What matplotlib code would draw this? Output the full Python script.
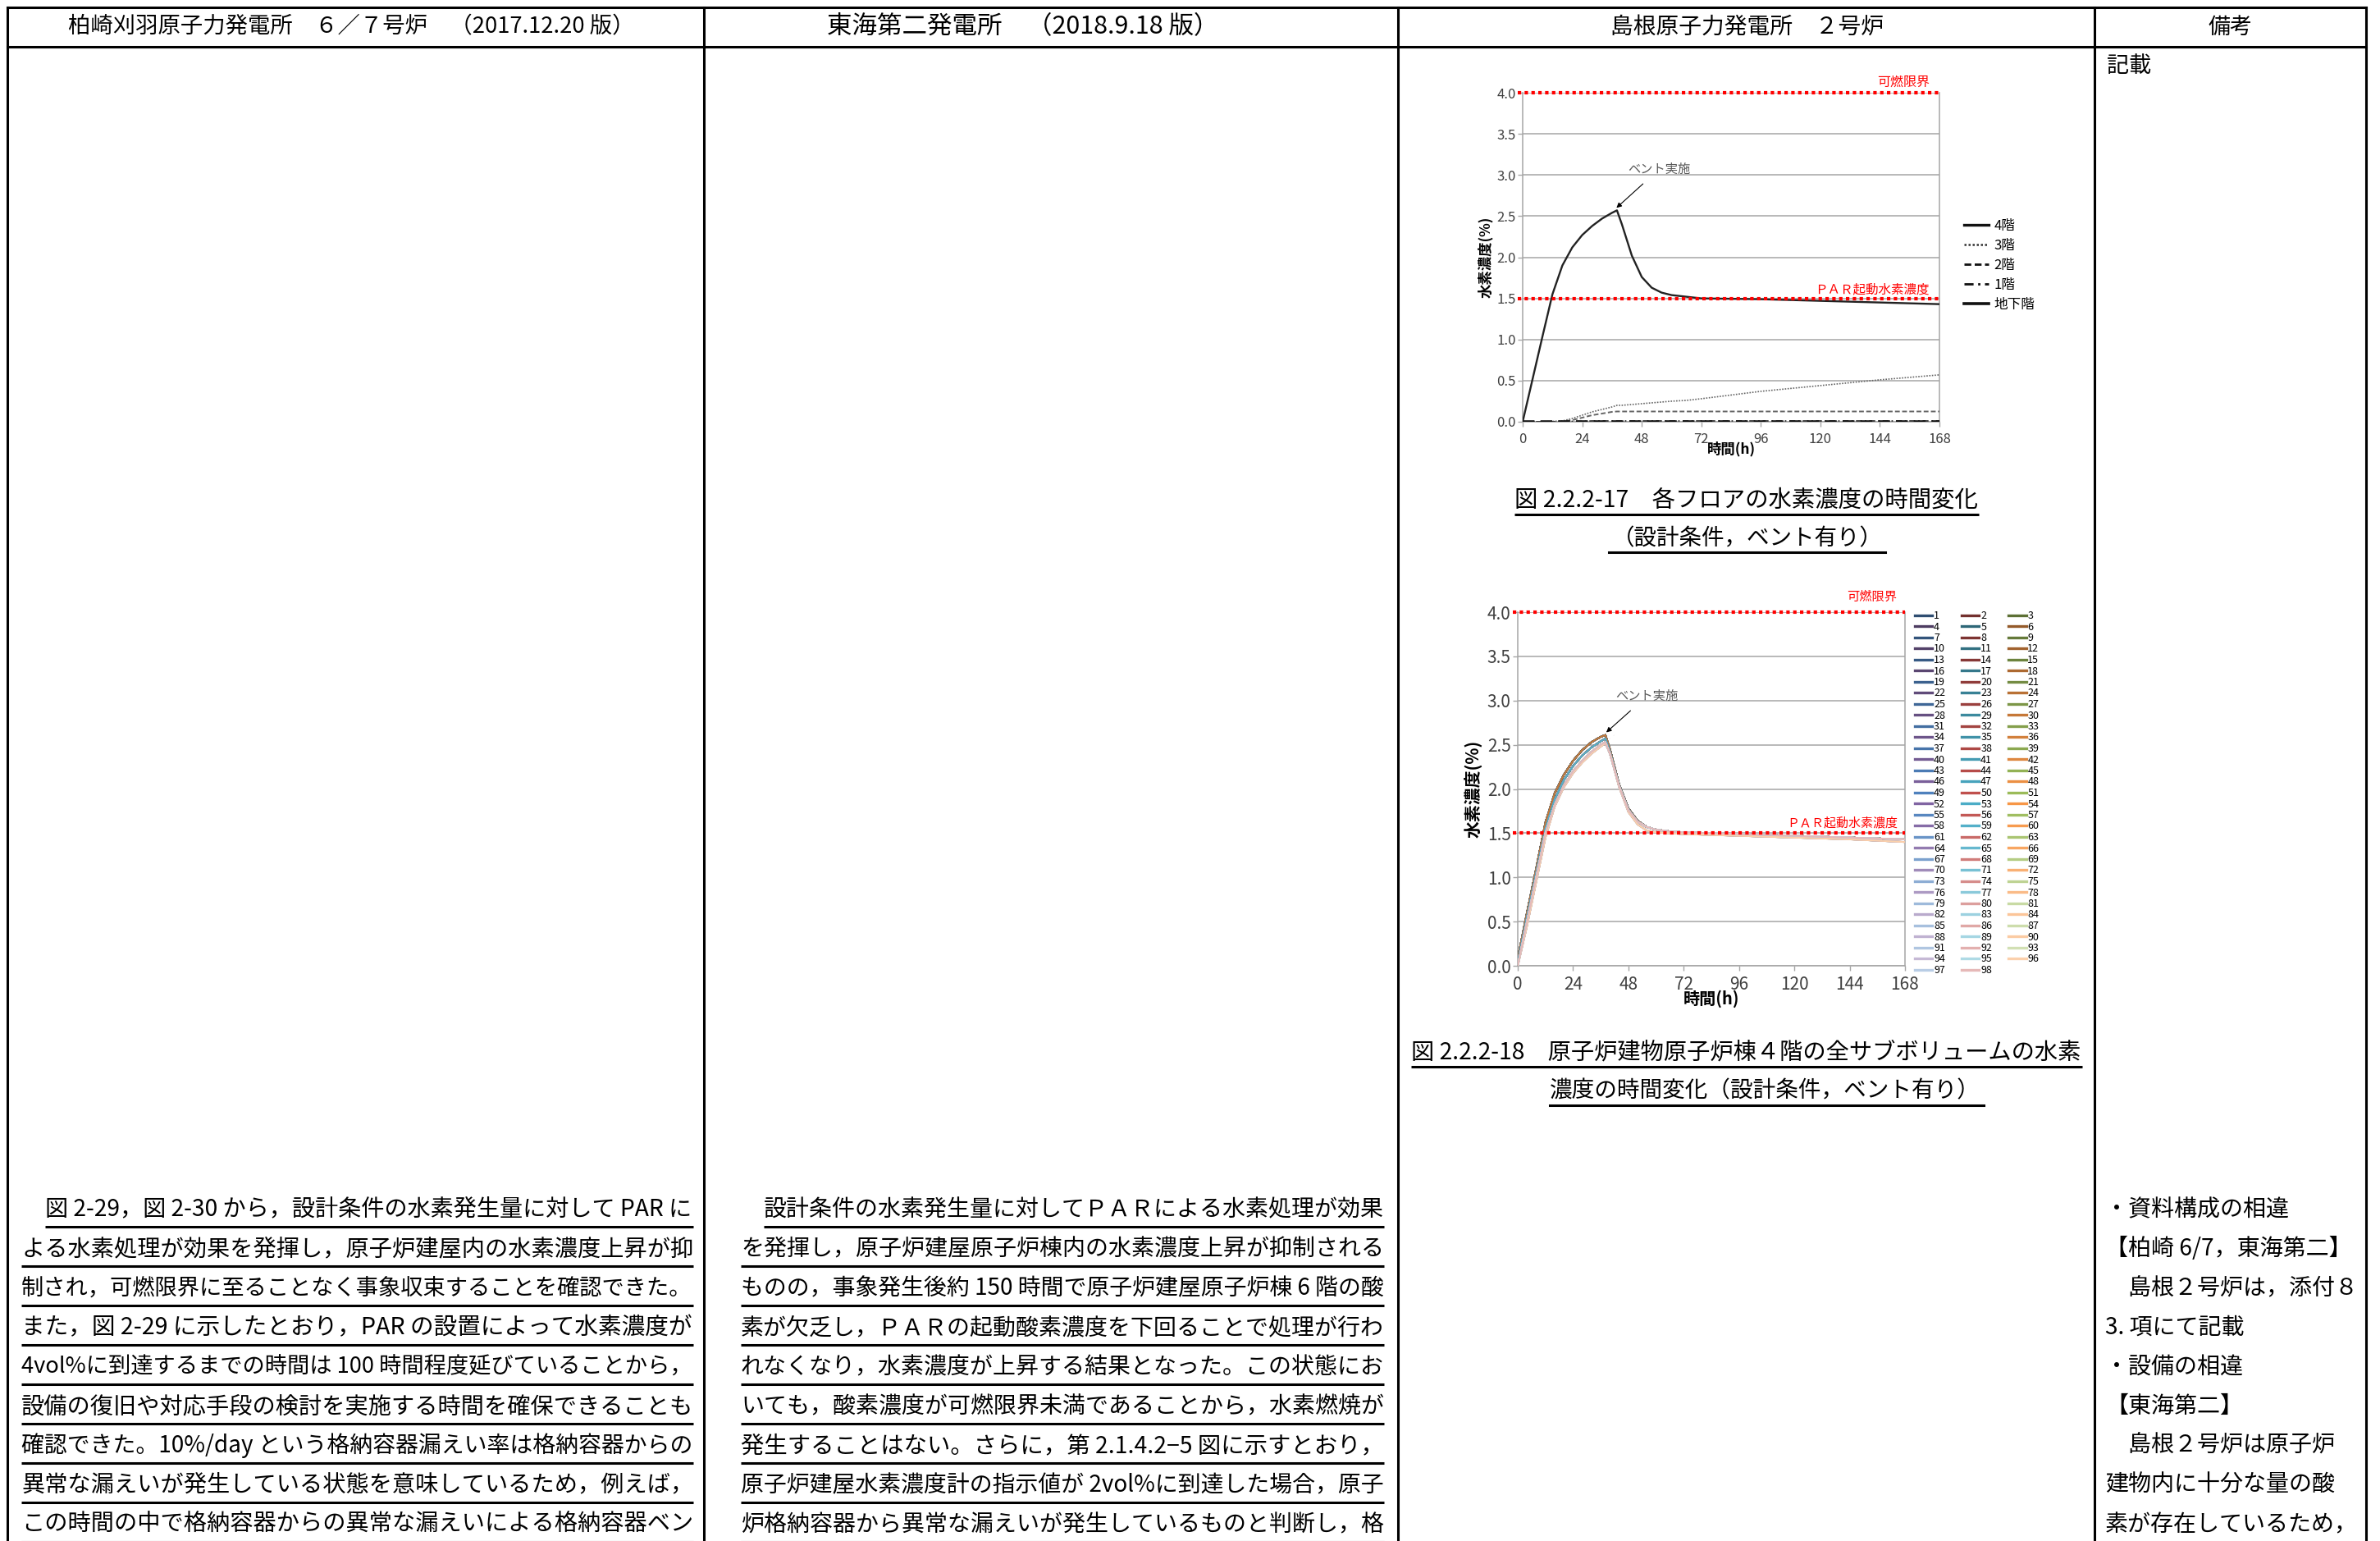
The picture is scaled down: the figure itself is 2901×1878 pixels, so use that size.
import numpy as np
import matplotlib
matplotlib.use('Agg')
import matplotlib.pyplot as plt
from matplotlib.lines import Line2D
from matplotlib.colors import to_rgb

plt.rcParams['font.family'] = ['Noto Sans CJK JP', 'DejaVu Sans']

W, H = 2901, 1878

# ---- table header ----
headers = ['柏崎刈羽原子力発電所　６／７号炉　（2017.12.20 版）',
           '東海第二発電所　（2018.9.18 版）',
           '島根原子力発電所　２号炉',
           '備考']
header_span = [(83, 773), (1008, 1486), (1963, 2297), (2691, 2745)]
col_lines = [9, 858, 1704, 2553, 2884]

# ---- chart 1 : hydrogen concentration per floor ----
hours1 = [0, 4, 8, 12, 16, 20, 24, 28, 32, 36, 38, 40, 44, 48, 52, 56, 60, 66, 72, 96, 120, 144, 168]
floor4 = [0, 0.52, 1.04, 1.55, 1.90, 2.12, 2.27, 2.38, 2.47, 2.54, 2.57, 2.40, 2.02, 1.76, 1.63, 1.57, 1.54, 1.52, 1.50, 1.49, 1.47, 1.45, 1.43]
floor3 = [0, 0, 0, 0.005, 0.01, 0.04, 0.08, 0.12, 0.15, 0.18, 0.20, 0.20, 0.21, 0.22, 0.23, 0.24, 0.25, 0.26, 0.28, 0.37, 0.44, 0.51, 0.57]
floor2 = [0, 0, 0, 0, 0.005, 0.02, 0.05, 0.08, 0.10, 0.12, 0.125, 0.125, 0.125, 0.125, 0.125, 0.125, 0.125, 0.125, 0.125, 0.125, 0.125, 0.125, 0.125]
floor1 = [0, 0, 0, 0, 0, 0.005, 0.005, 0.01, 0.01, 0.01, 0.01, 0.01, 0.01, 0.01, 0.01, 0.01, 0.01, 0.01, 0.01, 0.01, 0.01, 0.01, 0.01]
basement = [0, 0, 0, 0, 0, 0, 0, 0, 0, 0, 0, 0, 0, 0, 0, 0, 0, 0, 0, 0, 0, 0, 0]
floor_labels = ['4階', '3階', '2階', '1階', '地下階']

# ---- chart 2 : all sub-volumes of 4th floor ----
hours2 = [0, 4, 8, 12, 16, 20, 24, 28, 32, 36, 38, 40, 44, 48, 52, 56, 60, 66, 72, 96, 120, 144, 168]
sub_upper = [0.08, 0.60, 1.10, 1.62, 1.95, 2.16, 2.32, 2.44, 2.53, 2.59, 2.61, 2.45, 2.05, 1.78, 1.64, 1.57, 1.54, 1.52, 1.51, 1.49, 1.47, 1.45, 1.43]
sub_middle = [0.04, 0.55, 1.05, 1.55, 1.88, 2.10, 2.26, 2.38, 2.47, 2.54, 2.57, 2.42, 2.04, 1.77, 1.63, 1.57, 1.54, 1.52, 1.51, 1.49, 1.47, 1.45, 1.43]
sub_lower = [0.0, 0.50, 1.00, 1.50, 1.82, 2.04, 2.20, 2.32, 2.42, 2.50, 2.53, 2.40, 2.03, 1.76, 1.63, 1.57, 1.54, 1.52, 1.51, 1.49, 1.47, 1.45, 1.43]
sub_orange = [0.0, 0.45, 0.95, 1.45, 1.80, 2.02, 2.18, 2.30, 2.40, 2.48, 2.52, 2.40, 2.02, 1.74, 1.60, 1.53, 1.51, 1.50, 1.49, 1.47, 1.45, 1.43, 1.40]
n_sub = 98
upper_ids = list(range(1, 31))
middle_ids = list(range(31, 61))
orange_ids = [60, 66, 72, 73, 79, 85, 92, 96]

xticks = [0, 24, 48, 72, 96, 120, 144, 168]
yticks = [0.0, 0.5, 1.0, 1.5, 2.0, 2.5, 3.0, 3.5, 4.0]
ylim_flammable = 4.0
par_start = 1.5

# ---- body text ----
kk_lines = ['図 2-29，図 2-30 から，設計条件の水素発生量に対して PAR に',
            'よる水素処理が効果を発揮し，原子炉建屋内の水素濃度上昇が抑',
            '制され，可燃限界に至ることなく事象収束することを確認できた。',
            'また，図 2-29 に示したとおり，PAR の設置によって水素濃度が',
            '4vol%に到達するまでの時間は 100 時間程度延びていることから，',
            '設備の復旧や対応手段の検討を実施する時間を確保できることも',
            '確認できた。10%/day という格納容器漏えい率は格納容器からの',
            '異常な漏えいが発生している状態を意味しているため，例えば，',
            'この時間の中で格納容器からの異常な漏えいによる格納容器ベン']
tk_lines = ['設計条件の水素発生量に対してＰＡＲによる水素処理が効果',
            'を発揮し，原子炉建屋原子炉棟内の水素濃度上昇が抑制される',
            'ものの，事象発生後約 150 時間で原子炉建屋原子炉棟 6 階の酸',
            '素が欠乏し，ＰＡＲの起動酸素濃度を下回ることで処理が行わ',
            'れなくなり，水素濃度が上昇する結果となった。この状態にお',
            'いても，酸素濃度が可燃限界未満であることから，水素燃焼が',
            '発生することはない。さらに，第 2.1.4.2−5 図に示すとおり，',
            '原子炉建屋水素濃度計の指示値が 2vol%に到達した場合，原子',
            '炉格納容器から異常な漏えいが発生しているものと判断し，格']
biko_lines = ['・資料構成の相違',
              '【柏崎 6/7，東海第二】',
              '　島根２号炉は，添付８',
              '3. 項にて記載',
              '・設備の相違',
              '【東海第二】',
              '　島根２号炉は原子炉',
              '建物内に十分な量の酸',
              '素が存在しているため，']
cap1 = ['図 2.2.2-17　各フロアの水素濃度の時間変化', '（設計条件，ベント有り）']
cap2 = ['図 2.2.2-18　原子炉建物原子炉棟４階の全サブボリュームの水素', '濃度の時間変化（設計条件，ベント有り）']

fig = plt.figure(figsize=(W / 100, H / 100), dpi=100)
ov = fig.add_axes([0, 0, 1, 1])
ov.set_xlim(0, W)
ov.set_ylim(H, 0)
ov.axis('off')
rend = fig.canvas.get_renderer()


def fit_text(x0, x1, y, s, size=20.4, under=None, color='black'):
    t = ov.text(x0, y, s, fontsize=size, va='center', ha='left', color=color)
    w = t.get_window_extent(rend).width
    t.set_fontsize(size * (x1 - x0) / w)
    if under is not None:
        ov.plot([x0, x1], [under, under], color='black', lw=2.2, solid_capstyle='butt')
    return t


# table frame
ov.plot([col_lines[0], col_lines[-1]], [9, 9], color='black', lw=2.2)
ov.plot([col_lines[0], col_lines[-1]], [57, 57], color='black', lw=2.2)
for x in col_lines:
    ov.plot([x, x], [9, H], color='black', lw=2.2)

for s, (a, b) in zip(headers, header_span):
    fit_text(a, b, 33, s)

ov.text(2568, 81, '記載', fontsize=19.5, va='center', ha='left')

# body text blocks
for k, s in enumerate(kk_lines):
    y = 1474 + 48 * k
    x0 = 55 if k == 0 else 26
    fit_text(x0, 845, y, s, under=y + 21)
for k, s in enumerate(tk_lines):
    y = 1474 + 48 * k
    x0 = 931 if k == 0 else 903
    fit_text(x0, 1687, y, s, under=y + 21)
for k, s in enumerate(biko_lines):
    ov.text(2566, 1474 + 48 * k, s, fontsize=20.2, va='center', ha='left')

# captions
fit_text(1846, 2412, 610, cap1[0], under=627)
fit_text(1965, 2296, 657, cap1[1])
ov.plot([1961, 2298], [673, 673], color='black', lw=2.2)
fit_text(1720, 2538, 1282, cap2[0], under=1300)
fit_text(1889, 2414, 1330, cap2[1])
ov.plot([1889, 2418], [1347, 1347], color='black', lw=2.2)


def px_axes(l, t, r, b):
    return fig.add_axes([l / W, 1 - b / H, (r - l) / W, (b - t) / H])


def style(ax, tsize):
    ax.set_xlim(0, 168)
    ax.set_ylim(0, 4.0)
    ax.set_xticks(xticks)
    ax.set_yticks(yticks)
    ax.set_yticklabels(['%.1f' % v for v in yticks])
    ax.grid(axis='y', color='#a6a6a6', lw=1.1)
    ax.set_axisbelow(True)
    ax.spines['top'].set_visible(False)
    for sp in ['left', 'right', 'bottom']:
        ax.spines[sp].set_color('#a6a6a6')
        ax.spines[sp].set_linewidth(1.1)
    ax.tick_params(color='#a6a6a6', length=4, width=1, labelcolor='#404040', labelsize=tsize, pad=2)
    ax.tick_params(axis='x', pad=5)
    ax.axhline(ylim_flammable, xmin=-0.012, color='red', lw=3, ls=(0, (1, 1)), clip_on=False, zorder=6)
    ax.axhline(par_start, xmin=-0.012, color='red', lw=3, ls=(0, (1, 1)), clip_on=False, zorder=6)


# chart 1
ax1 = px_axes(1856, 113, 2364, 514)
style(ax1, 12)
ax1.plot(hours1, floor4, color='#222222', lw=1.7, zorder=4)
ax1.plot(hours1, floor3, color='#666666', lw=1.2, ls=(0, (1, 1)), zorder=4)
ax1.plot(hours1, floor2, color='#666666', lw=1.4, ls=(0, (3, 1.5)), zorder=4)
ax1.plot(hours1, floor1, color='#333333', lw=1.3, ls=(0, (4, 2, 1, 2)), zorder=4)
ax1.plot(hours1, basement, color='#111111', lw=2.6, ls=(0, (4, 2)), zorder=5)
ax1.set_ylabel('水素濃度(%)', fontsize=12.5, fontweight='bold', labelpad=3)
ax1.set_xlabel('時間(h)', fontsize=12.5, fontweight='bold', labelpad=-4)
ax1.text(164, 4.13, '可燃限界', color='red', fontsize=11.5, ha='right', va='center')
ax1.text(164, 1.61, 'ＰＡＲ起動水素濃度', color='red', fontsize=11.2, ha='right', va='center')
ax1.annotate('ベント実施', xy=(37.8, 2.6), xytext=(55, 3.07), fontsize=11, color='#595959',
             ha='center', va='center',
             arrowprops=dict(arrowstyle='-|>', color='black', lw=0.8, shrinkA=7, shrinkB=0, mutation_scale=9))
h1 = [Line2D([0], [0], color='#111111', lw=2.4),
      Line2D([0], [0], color='#333333', lw=1.8, ls=(0, (1, 1))),
      Line2D([0], [0], color='#111111', lw=2.0, ls=(0, (3, 1.5))),
      Line2D([0], [0], color='#111111', lw=2.0, ls=(0, (4, 2, 1, 2))),
      Line2D([0], [0], color='#111111', lw=2.6)]
fig.legend(h1, floor_labels, loc='upper left', bbox_to_anchor=(2394 / W, 1 - 267 / H),
           frameon=False, fontsize=12, handlelength=1.8, handletextpad=0.4, labelspacing=0.42,
           borderpad=0, borderaxespad=0)

# chart 2
base_cols = ['#4F81BD', '#C0504D', '#9BBB59', '#8064A2', '#4BACC6', '#F79646']
shade = [-0.4, -0.35, -0.3, -0.25, -0.2, -0.15, -0.1, -0.05, 0.0, 0.05, 0.15, 0.25, 0.35, 0.45, 0.5, 0.55, 0.6]


def sub_color(i):
    c = np.array(to_rgb(base_cols[i % 6]))
    f = shade[i // 6]
    if f < 0:
        return tuple(c * (1 + f))
    return tuple(c + (1 - c) * f)


ax2 = px_axes(1850, 746, 2322, 1177)
style(ax2, 15)
cols = [sub_color(i) for i in range(n_sub)]
for i in range(n_sub):
    sid = i + 1
    if sid in orange_ids:
        ys = sub_orange
    elif sid in upper_ids:
        ys = sub_upper
    elif sid in middle_ids:
        ys = sub_middle
    else:
        ys = sub_lower
    ax2.plot(hours2, ys, color=cols[i], lw=1.4, zorder=3)
ax2.set_ylabel('水素濃度(%)', fontsize=15, fontweight='bold', labelpad=4)
ax2.set_xlabel('時間(h)', fontsize=14.5, fontweight='bold', labelpad=-4)
ax2.text(164.5, 4.17, '可燃限界', color='red', fontsize=11, ha='right', va='center')
ax2.text(165, 1.61, 'ＰＡＲ起動水素濃度', color='red', fontsize=10.8, ha='right', va='center')
ax2.annotate('ベント実施', xy=(38.4, 2.64), xytext=(56, 3.05), fontsize=11, color='#595959',
             ha='center', va='center',
             arrowprops=dict(arrowstyle='-|>', color='black', lw=0.8, shrinkA=7, shrinkB=0, mutation_scale=9))
order = [i for c in range(3) for i in range(c, n_sub, 3)]
h2 = [Line2D([0], [0], color=cols[i], lw=2.4) for i in order]
l2 = [str(i + 1) for i in order]
fig.legend(h2, l2, loc='upper left', ncol=3, bbox_to_anchor=(2334 / W, 1 - 744 / H),
           frameon=False, fontsize=9, handlelength=1.7, handletextpad=0.15, labelspacing=0.04,
           columnspacing=1.6, borderpad=0, borderaxespad=0)

fig.savefig('out.png', dpi=100)
